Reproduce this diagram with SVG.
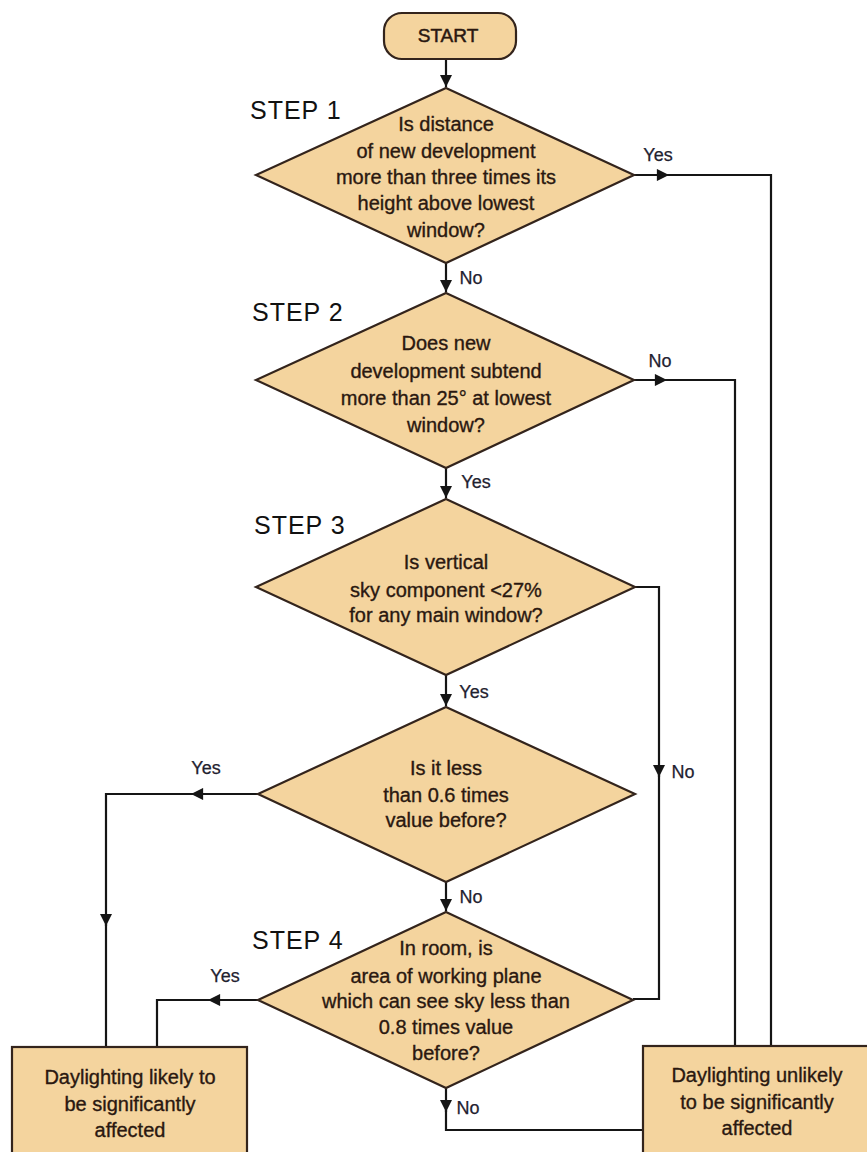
<svg xmlns="http://www.w3.org/2000/svg" width="867" height="1152" viewBox="0 0 867 1152">
<style>
  .shape { fill: #F4D49E; stroke: #33241c; stroke-width: 2.2; }
  .q { font-family: "Liberation Sans", Arial, sans-serif; font-size: 20px; fill: #2a1810; stroke: #2a1810; stroke-width: 0.35; text-anchor: middle; }
  .step { font-family: "Liberation Sans", Arial, sans-serif; font-size: 25px; fill: #111; letter-spacing: 1px; }
  .lbl { font-family: "Liberation Sans", Arial, sans-serif; font-size: 18px; fill: #1f2230; stroke: #1f2230; stroke-width: 0.25; text-anchor: middle; }
  .conn { fill: none; stroke: #151515; stroke-width: 2.2; }
</style>
<defs>
  <marker id="arr" viewBox="0 0 10 10" refX="10" refY="5" markerWidth="6" markerHeight="5.5" orient="auto" markerUnits="strokeWidth">
    <path d="M0,0 L10,5 L0,10 z" fill="#151515"/>
  </marker>
</defs>
<rect width="867" height="1152" fill="#ffffff"/>

<g id="connectors">
  <line class="conn" x1="446" y1="59" x2="446" y2="87" marker-end="url(#arr)"/>
  <path class="conn" d="M634,175 H669" marker-end="url(#arr)"/>
  <path class="conn" d="M667,175 H771 V1046"/>
  <line class="conn" x1="446" y1="263" x2="446" y2="292" marker-end="url(#arr)"/>
  <path class="conn" d="M634,380 H667" marker-end="url(#arr)"/>
  <path class="conn" d="M665,380 H735 V1046"/>
  <line class="conn" x1="446" y1="468" x2="446" y2="498" marker-end="url(#arr)"/>
  <path class="conn" d="M635,587 H659 V777" marker-end="url(#arr)"/>
  <path class="conn" d="M659,775 V999 H633"/>
  <line class="conn" x1="446" y1="675" x2="446" y2="706" marker-end="url(#arr)"/>
  <path class="conn" d="M258,794 H191" marker-end="url(#arr)"/>
  <path class="conn" d="M193,794 H106 V926" marker-end="url(#arr)"/>
  <path class="conn" d="M106,924 V1047"/>
  <line class="conn" x1="446" y1="882" x2="446" y2="911" marker-end="url(#arr)"/>
  <path class="conn" d="M258,1000 H208" marker-end="url(#arr)"/>
  <path class="conn" d="M210,1000 H157 V1047"/>
  <path class="conn" d="M446,1088 V1112" marker-end="url(#arr)"/>
  <path class="conn" d="M446,1110 V1130 H643"/>
  <text class="lbl" x="658" y="161">Yes</text>
  <text class="lbl" x="471" y="284">No</text>
  <text class="lbl" x="660" y="367">No</text>
  <text class="lbl" x="476" y="488">Yes</text>
  <text class="lbl" x="683" y="778">No</text>
  <text class="lbl" x="474" y="698">Yes</text>
  <text class="lbl" x="206" y="774">Yes</text>
  <text class="lbl" x="471" y="903">No</text>
  <text class="lbl" x="225" y="982">Yes</text>
  <text class="lbl" x="468" y="1114">No</text>
</g>

<g id="start">
  <rect class="shape" x="384" y="13" width="132" height="46" rx="18" ry="18"/>
  <text class="q" x="448" y="42" style="font-size:19px;stroke-width:0.5">START</text>
</g>

<g id="step1">
  <text class="step" x="250" y="119">STEP 1</text>
  <polygon class="shape" points="446,88 634,175 446,263 256,175"/>
  <text class="q" x="446" y="131">Is distance</text>
  <text class="q" x="446" y="158">of new development</text>
  <text class="q" x="446" y="184">more than three times its</text>
  <text class="q" x="446" y="210">height above lowest</text>
  <text class="q" x="446" y="237">window?</text>
</g>

<g id="step2">
  <text class="step" x="252" y="321">STEP 2</text>
  <polygon class="shape" points="446,293 634,380 446,468 256,380"/>
  <text class="q" x="446" y="350">Does new</text>
  <text class="q" x="446" y="378">development subtend</text>
  <text class="q" x="446" y="405">more than 25° at lowest</text>
  <text class="q" x="446" y="432">window?</text>
</g>

<g id="step3">
  <text class="step" x="254" y="534">STEP 3</text>
  <polygon class="shape" points="446,499 635,587 446,675 256,587"/>
  <text class="q" x="446" y="569">Is vertical</text>
  <text class="q" x="446" y="597">sky component &lt;27%</text>
  <text class="q" x="446" y="622">for any main window?</text>
</g>

<g id="check06">
  <polygon class="shape" points="446,707 635,794 446,882 258,794"/>
  <text class="q" x="446" y="775">Is it less</text>
  <text class="q" x="446" y="802">than 0.6 times</text>
  <text class="q" x="446" y="827">value before?</text>
</g>

<g id="step4">
  <text class="step" x="252" y="949">STEP 4</text>
  <polygon class="shape" points="446,912 633,1000 446,1088 258,1000"/>
  <text class="q" x="446" y="955">In room, is</text>
  <text class="q" x="446" y="983">area of working plane</text>
  <text class="q" x="446" y="1008">which can see sky less than</text>
  <text class="q" x="446" y="1034">0.8 times value</text>
  <text class="q" x="446" y="1060">before?</text>
</g>

<g id="affected">
  <rect class="shape" x="12" y="1047" width="235" height="120"/>
  <text class="q" x="130" y="1084">Daylighting likely to</text>
  <text class="q" x="130" y="1111">be significantly</text>
  <text class="q" x="130" y="1137">affected</text>
</g>

<g id="unaffected">
  <rect class="shape" x="643" y="1046" width="240" height="120"/>
  <text class="q" x="757" y="1082">Daylighting unlikely</text>
  <text class="q" x="757" y="1109">to be significantly</text>
  <text class="q" x="757" y="1135">affected</text>
</g>
</svg>
